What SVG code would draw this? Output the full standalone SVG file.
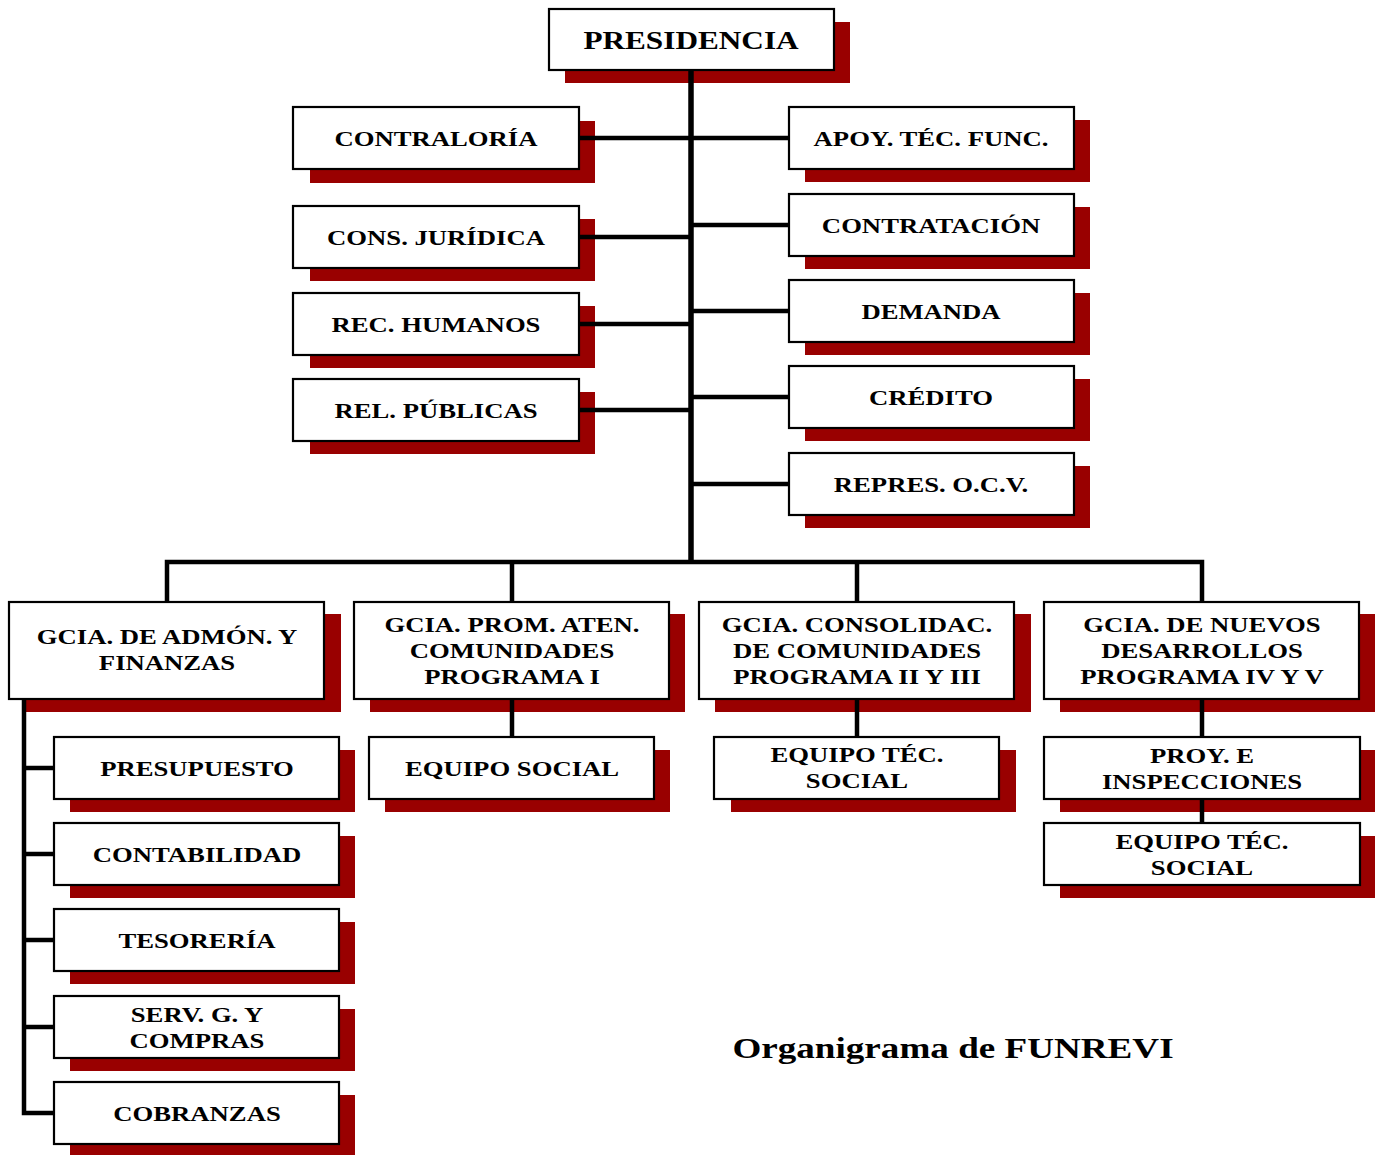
<svg xmlns="http://www.w3.org/2000/svg" width="1377" height="1155" viewBox="0 0 1377 1155">
<defs>
<style>
.sh{fill:#990000}
.bx{fill:#fff;stroke:#000;stroke-width:2.2}
.t{font-family:"Liberation Serif","Times New Roman",serif;font-weight:bold;font-size:21px;text-anchor:middle;fill:#000}
.tp{font-size:25px}
.ti{font-size:29px}
.c{stroke:#000;stroke-width:4.5;fill:none}
</style>
</defs>
<rect width="1377" height="1155" fill="#fff"/>

<g id="presidencia"><rect class="sh" x="565" y="22" width="285" height="61"/><rect class="bx" x="549" y="9" width="285" height="61"/><text class="t tp" transform="translate(691,49) scale(1.25,1)">PRESIDENCIA</text></g>

<g id="contraloria"><rect class="sh" x="310" y="121" width="285" height="62"/><rect class="bx" x="293" y="107" width="286" height="62"/><text class="t" transform="translate(436,146) scale(1.27,1)">CONTRALORÍA</text></g>
<g id="cons-juridica"><rect class="sh" x="310" y="219" width="285" height="62"/><rect class="bx" x="293" y="206" width="286" height="62"/><text class="t" transform="translate(436,245) scale(1.27,1)">CONS. JURÍDICA</text></g>
<g id="rec-humanos"><rect class="sh" x="310" y="306" width="285" height="62"/><rect class="bx" x="293" y="293" width="286" height="62"/><text class="t" transform="translate(436,332) scale(1.27,1)">REC. HUMANOS</text></g>
<g id="rel-publicas"><rect class="sh" x="310" y="392" width="285" height="62"/><rect class="bx" x="293" y="379" width="286" height="62"/><text class="t" transform="translate(436,418) scale(1.27,1)">REL. PÚBLICAS</text></g>

<g id="apoy-tec"><rect class="sh" x="805" y="120" width="285" height="62"/><rect class="bx" x="789" y="107" width="285" height="62"/><text class="t" transform="translate(931,146) scale(1.27,1)">APOY. TÉC. FUNC.</text></g>
<g id="contratacion"><rect class="sh" x="805" y="207" width="285" height="62"/><rect class="bx" x="789" y="194" width="285" height="62"/><text class="t" transform="translate(931,233) scale(1.27,1)">CONTRATACIÓN</text></g>
<g id="demanda"><rect class="sh" x="805" y="293" width="285" height="62"/><rect class="bx" x="789" y="280" width="285" height="62"/><text class="t" transform="translate(931,319) scale(1.27,1)">DEMANDA</text></g>
<g id="credito"><rect class="sh" x="805" y="379" width="285" height="62"/><rect class="bx" x="789" y="366" width="285" height="62"/><text class="t" transform="translate(931,405) scale(1.27,1)">CRÉDITO</text></g>
<g id="repres"><rect class="sh" x="805" y="466" width="285" height="62"/><rect class="bx" x="789" y="453" width="285" height="62"/><text class="t" transform="translate(931,492) scale(1.27,1)">REPRES. O.C.V.</text></g>

<g id="gcia-admon"><rect class="sh" x="25" y="614" width="316" height="98"/><rect class="bx" x="9" y="602" width="315" height="97"/><text class="t" transform="translate(167,644) scale(1.27,1)"><tspan x="0">GCIA. DE ADMÓN. Y</tspan><tspan x="0" dy="26">FINANZAS</tspan></text></g>
<g id="gcia-prom"><rect class="sh" x="370" y="614" width="315" height="98"/><rect class="bx" x="354" y="602" width="315" height="97"/><text class="t" transform="translate(512,632) scale(1.27,1)"><tspan x="0">GCIA. PROM. ATEN.</tspan><tspan x="0" dy="26">COMUNIDADES</tspan><tspan x="0" dy="26">PROGRAMA I</tspan></text></g>
<g id="gcia-consolidac"><rect class="sh" x="715" y="614" width="316" height="98"/><rect class="bx" x="699" y="602" width="315" height="97"/><text class="t" transform="translate(857,632) scale(1.27,1)"><tspan x="0">GCIA. CONSOLIDAC.</tspan><tspan x="0" dy="26">DE COMUNIDADES</tspan><tspan x="0" dy="26">PROGRAMA II Y III</tspan></text></g>
<g id="gcia-nuevos"><rect class="sh" x="1060" y="614" width="315" height="98"/><rect class="bx" x="1044" y="602" width="315" height="97"/><text class="t" transform="translate(1202,632) scale(1.27,1)"><tspan x="0">GCIA. DE NUEVOS</tspan><tspan x="0" dy="26">DESARROLLOS</tspan><tspan x="0" dy="26">PROGRAMA IV Y V</tspan></text></g>

<g id="presupuesto"><rect class="sh" x="70" y="750" width="285" height="62"/><rect class="bx" x="54" y="737" width="285" height="62"/><text class="t" transform="translate(197,776) scale(1.27,1)">PRESUPUESTO</text></g>
<g id="contabilidad"><rect class="sh" x="70" y="836" width="285" height="62"/><rect class="bx" x="54" y="823" width="285" height="62"/><text class="t" transform="translate(197,862) scale(1.27,1)">CONTABILIDAD</text></g>
<g id="tesoreria"><rect class="sh" x="70" y="922" width="285" height="62"/><rect class="bx" x="54" y="909" width="285" height="62"/><text class="t" transform="translate(197,948) scale(1.27,1)">TESORERÍA</text></g>
<g id="serv-compras"><rect class="sh" x="70" y="1009" width="285" height="62"/><rect class="bx" x="54" y="996" width="285" height="62"/><text class="t" transform="translate(197,1022) scale(1.27,1)"><tspan x="0">SERV. G. Y</tspan><tspan x="0" dy="26">COMPRAS</tspan></text></g>
<g id="cobranzas"><rect class="sh" x="70" y="1095" width="285" height="62"/><rect class="bx" x="54" y="1082" width="285" height="62"/><text class="t" transform="translate(197,1121) scale(1.27,1)">COBRANZAS</text></g>

<g id="equipo-social"><rect class="sh" x="385" y="750" width="285" height="62"/><rect class="bx" x="369" y="737" width="285" height="62"/><text class="t" transform="translate(512,776) scale(1.27,1)">EQUIPO SOCIAL</text></g>
<g id="equipo-tec-social-2"><rect class="sh" x="731" y="750" width="285" height="62"/><rect class="bx" x="714" y="737" width="285" height="62"/><text class="t" transform="translate(857,762) scale(1.27,1)"><tspan x="0">EQUIPO TÉC.</tspan><tspan x="0" dy="26">SOCIAL</tspan></text></g>
<g id="proy-inspecciones"><rect class="sh" x="1060" y="750" width="315" height="62"/><rect class="bx" x="1044" y="737" width="316" height="62"/><text class="t" transform="translate(1202,763) scale(1.27,1)"><tspan x="0">PROY. E</tspan><tspan x="0" dy="26">INSPECCIONES</tspan></text></g>
<g id="equipo-tec-social-4"><rect class="sh" x="1060" y="836" width="315" height="62"/><rect class="bx" x="1044" y="823" width="316" height="62"/><text class="t" transform="translate(1202,849) scale(1.27,1)"><tspan x="0">EQUIPO TÉC.</tspan><tspan x="0" dy="26">SOCIAL</tspan></text></g>

<g id="connectors">
<line class="c" x1="691" y1="70" x2="691" y2="562" style="stroke-width:5.5"/>
<line class="c" x1="580" y1="138" x2="789" y2="138"/>
<line class="c" x1="580" y1="237" x2="691" y2="237"/>
<line class="c" x1="580" y1="324" x2="691" y2="324"/>
<line class="c" x1="580" y1="410" x2="691" y2="410"/>
<line class="c" x1="691" y1="225" x2="789" y2="225"/>
<line class="c" x1="691" y1="311" x2="789" y2="311"/>
<line class="c" x1="691" y1="397" x2="789" y2="397"/>
<line class="c" x1="691" y1="484" x2="789" y2="484"/>
<polyline class="c" points="167,602 167,562 1202,562 1202,602"/>
<line class="c" x1="512" y1="562" x2="512" y2="602"/>
<line class="c" x1="857" y1="562" x2="857" y2="602"/>
<line class="c" x1="512" y1="700" x2="512" y2="737"/>
<line class="c" x1="857" y1="700" x2="857" y2="737"/>
<line class="c" x1="1202" y1="700" x2="1202" y2="737"/>
<line class="c" x1="1202" y1="799" x2="1202" y2="823"/>
<polyline class="c" points="24,700 24,1113 54,1113"/>
<line class="c" x1="24" y1="768" x2="54" y2="768"/>
<line class="c" x1="24" y1="854" x2="54" y2="854"/>
<line class="c" x1="24" y1="940" x2="54" y2="940"/>
<line class="c" x1="24" y1="1027" x2="54" y2="1027"/>
</g>

<text class="t ti" transform="translate(953,1058) scale(1.28,1)">Organigrama de FUNREVI</text>
</svg>
